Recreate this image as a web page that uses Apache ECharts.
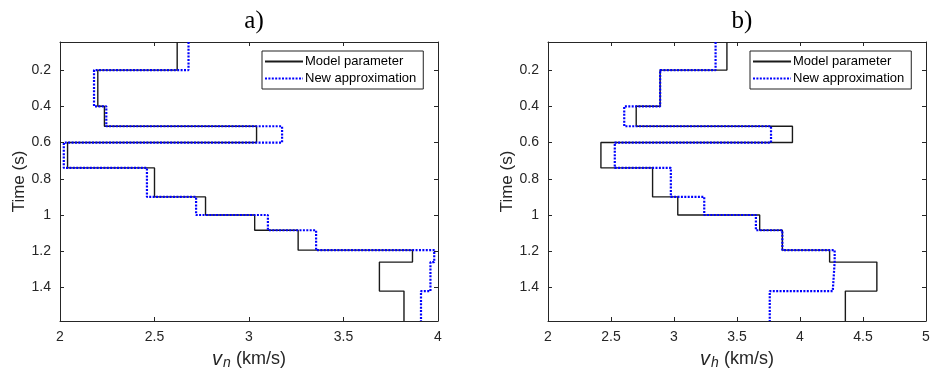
<!DOCTYPE html>
<html>
<head>
<meta charset="utf-8">
<script src="https://cdn.jsdelivr.net/npm/echarts@6/dist/echarts.min.js"></script>
<style>
html,body{margin:0;padding:0;background:#fff;}
#c{width:933px;height:385px;}
</style>
</head>
<body>
<div id="c"></div>
<script>
// ---- data ----
var timeMin = 0.045;
var timeMax = 1.585;
var layerBounds = [0.2, 0.4, 0.51, 0.6, 0.74, 0.9, 1.0, 1.084, 1.194, 1.26, 1.42];
var vnModel  = [2.62, 2.20, 2.235, 3.04, 2.04, 2.50, 2.77, 3.03, 3.26, 3.865, 3.69, 3.82];
var vnApprox = [2.68, 2.18, 2.245, 3.175, 2.02, 2.46, 2.72, 3.10, 3.355, 3.98, 3.96, 3.91];
var vhModel  = [3.42, 2.89, 2.70, 3.94, 2.42, 2.83, 3.03, 3.68, 3.86, 4.235, 4.61, 4.36];
var vhApprox = [3.33, 2.89, 2.605, 3.77, 2.53, 2.975, 3.24, 3.65, 3.86, 4.275, 4.26, 3.76];
var timeTicks = [0.2, 0.4, 0.6, 0.8, 1, 1.2, 1.4];
var vnTicks = [2, 2.5, 3, 3.5, 4];
var vhTicks = [2, 2.5, 3, 3.5, 4, 4.5, 5];
var seriesNames = ['Model parameter', 'New approximation'];
var panelTitles = ['a)', 'b)'];

function profile(vals) {
  var pts = [];
  for (var i = 0; i < vals.length; i++) {
    var t0 = i === 0 ? timeMin : layerBounds[i - 1];
    var t1 = i === vals.length - 1 ? timeMax : layerBounds[i];
    pts.push([vals[i], t0]);
    pts.push([vals[i], t1]);
  }
  return pts;
}

var chart = echarts.init(document.getElementById('c'));
var axisColor = '#262626';
var font = 'Liberation Sans, Arial, sans-serif';

function xAx(gi, min, max, ticks, sub, top) {
  var a = {
    type: 'value', gridIndex: gi, min: min, max: max,
    position: top ? 'top' : 'bottom',
    axisLine: {show: true, onZero: false, lineStyle: {color: axisColor, width: 1}},
    axisTick: {show: true, inside: true, length: 4, customValues: ticks, lineStyle: {color: axisColor}},
    axisLabel: {show: !top, customValues: ticks, color: '#262626', fontSize: 14, fontFamily: font, margin: 9},
    splitLine: {show: false}
  };
  if (!top) {
    a.name = '{i|v}{s|' + sub + '} (km/s)';
    a.nameLocation = 'middle';
    a.nameGap = 27;
    a.nameTextStyle = {
      color: '#262626', fontSize: 18, fontFamily: font,
      rich: {
        i: {fontStyle: 'italic', fontSize: 20, fontFamily: font, color: '#262626'},
        s: {fontStyle: 'italic', fontSize: 14, fontFamily: font, color: '#262626', verticalAlign: 'bottom', padding: [8, 0, 0, 1]}
      }
    };
  }
  return a;
}
function yAx(gi, right) {
  var a = {
    type: 'value', gridIndex: gi, min: timeMin, max: timeMax, inverse: true,
    position: right ? 'right' : 'left',
    axisLine: {show: true, onZero: false, lineStyle: {color: axisColor, width: 1}},
    axisTick: {show: true, inside: true, length: 4, customValues: timeTicks, lineStyle: {color: axisColor}},
    axisLabel: {show: !right, customValues: timeTicks, color: '#262626', fontSize: 14, fontFamily: font, margin: 9},
    splitLine: {show: false}
  };
  if (!right) {
    a.name = 'Time (s)';
    a.nameLocation = 'middle';
    a.nameGap = 28;
    a.nameTextStyle = {color: '#262626', fontSize: 17, fontFamily: font};
  }
  return a;
}

function legendFor(left) {
  return {
    left: left, top: 51, orient: 'vertical',
    data: seriesNames,
    backgroundColor: '#fff', borderColor: '#222', borderWidth: 1, borderRadius: 0,
    padding: [4, 7, 4, 2], itemGap: 4, itemWidth: 38, itemHeight: 14,
    itemStyle: {color: 'rgba(0,0,0,0)', borderWidth: 0, opacity: 0},
    textStyle: {fontSize: 13, fontFamily: font, color: '#000', padding: [0, 0, 0, -3]},
    selectedMode: false
  };
}

function lineSeries(name, xi, yi, vals) {
  var model = name === seriesNames[0];
  return {
    name: name, type: 'line', xAxisIndex: xi, yAxisIndex: yi,
    data: profile(vals), symbol: 'none', showSymbol: false, animation: false,
    clip: true, z: model ? 2 : 3,
    itemStyle: {color: model ? '#1a1a1a' : '#0000ff'},
    lineStyle: model ? {color: '#1a1a1a', width: 1.4, type: 'solid'}
                     : {color: '#0000ff', width: 2.2, type: [2, 1.4]}
  };
}

var option = {
  backgroundColor: '#fff',
  animation: false,
  title: [
    {text: panelTitles[0], left: 249, top: 4, textAlign: 'center',
     textStyle: {fontFamily: 'Liberation Serif, Times New Roman, serif', fontWeight: 'normal', fontSize: 25, color: '#000'}},
    {text: panelTitles[1], left: 737, top: 4, textAlign: 'center',
     textStyle: {fontFamily: 'Liberation Serif, Times New Roman, serif', fontWeight: 'normal', fontSize: 25, color: '#000'}}
  ],
  legend: [legendFor(262), legendFor(750)],
  grid: [
    {left: 60, top: 42, width: 378, height: 279, containLabel: false},
    {left: 548, top: 42, width: 378, height: 279, containLabel: false}
  ],
  xAxis: [
    xAx(0, 2, 4, vnTicks, 'n', false),
    xAx(0, 2, 4, vnTicks, 'n', true),
    xAx(1, 2, 5, vhTicks, 'h', false),
    xAx(1, 2, 5, vhTicks, 'h', true)
  ],
  yAxis: [yAx(0, false), yAx(0, true), yAx(1, false), yAx(1, true)],
  series: [
    lineSeries(seriesNames[0], 0, 0, vnModel),
    lineSeries(seriesNames[1], 0, 0, vnApprox),
    lineSeries(seriesNames[0], 2, 2, vhModel),
    lineSeries(seriesNames[1], 2, 2, vhApprox)
  ]
};
chart.setOption(option);
</script>
</body>
</html>
